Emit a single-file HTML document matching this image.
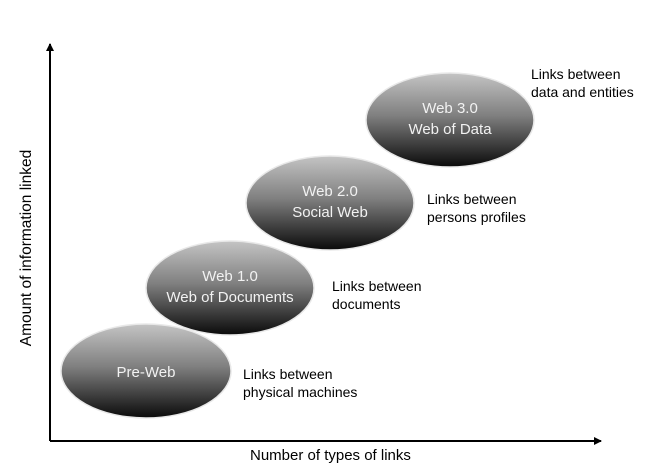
<!DOCTYPE html>
<html><head><meta charset="utf-8"><style>
body{margin:0;background:#fff;}
svg text{font-family:"Liberation Sans",sans-serif;}
</style></head><body>
<svg width="648" height="471" viewBox="0 0 648 471" xmlns="http://www.w3.org/2000/svg">
<defs>
<linearGradient id="g" x1="0" y1="0" x2="0" y2="1">
<stop offset="0" stop-color="#c4c4c4"/>
<stop offset="0.45" stop-color="#808080"/>
<stop offset="1" stop-color="#0a0a0a"/>
</linearGradient>
<marker id="a" markerWidth="8" markerHeight="8" refX="7" refY="4" orient="auto" markerUnits="userSpaceOnUse">
<path d="M0,0 L8,4 L0,8 z" fill="#000"/></marker>
</defs>
<line x1="50" y1="441" x2="50" y2="44" stroke="#000" stroke-width="2" marker-end="url(#a)"/>
<line x1="50" y1="441" x2="601" y2="441" stroke="#000" stroke-width="2" marker-end="url(#a)"/>
<g stroke="#e8e8e8" stroke-width="1.5" fill="url(#g)">
<ellipse cx="146" cy="371" rx="85" ry="47"/>
<ellipse cx="230" cy="288" rx="84" ry="47"/>
<ellipse cx="330" cy="203" rx="84" ry="47"/>
<ellipse cx="450" cy="120" rx="84" ry="47"/>
</g>
<g fill="#f2f2f2" font-size="15" text-anchor="middle">
<text x="146" y="377">Pre-Web</text>
<text x="230" y="281">Web 1.0</text>
<text x="230" y="302">Web of Documents</text>
<text x="330" y="196">Web 2.0</text>
<text x="330" y="217">Social Web</text>
<text x="450" y="113">Web 3.0</text>
<text x="450" y="134">Web of Data</text>
</g>
<g fill="#000" font-size="14">
<text x="243" y="379">Links between</text>
<text x="243" y="397">physical machines</text>
<text x="332" y="291">Links between</text>
<text x="332" y="309">documents</text>
<text x="427" y="204">Links between</text>
<text x="427" y="222">persons profiles</text>
<text x="531" y="79">Links between</text>
<text x="531" y="97">data and entities</text>
<text x="250" y="460" font-size="15">Number of types of links</text>
<text transform="translate(31,248) rotate(-90)" font-size="15.5" text-anchor="middle">Amount of information linked</text>
</g>
</svg>
</body></html>
